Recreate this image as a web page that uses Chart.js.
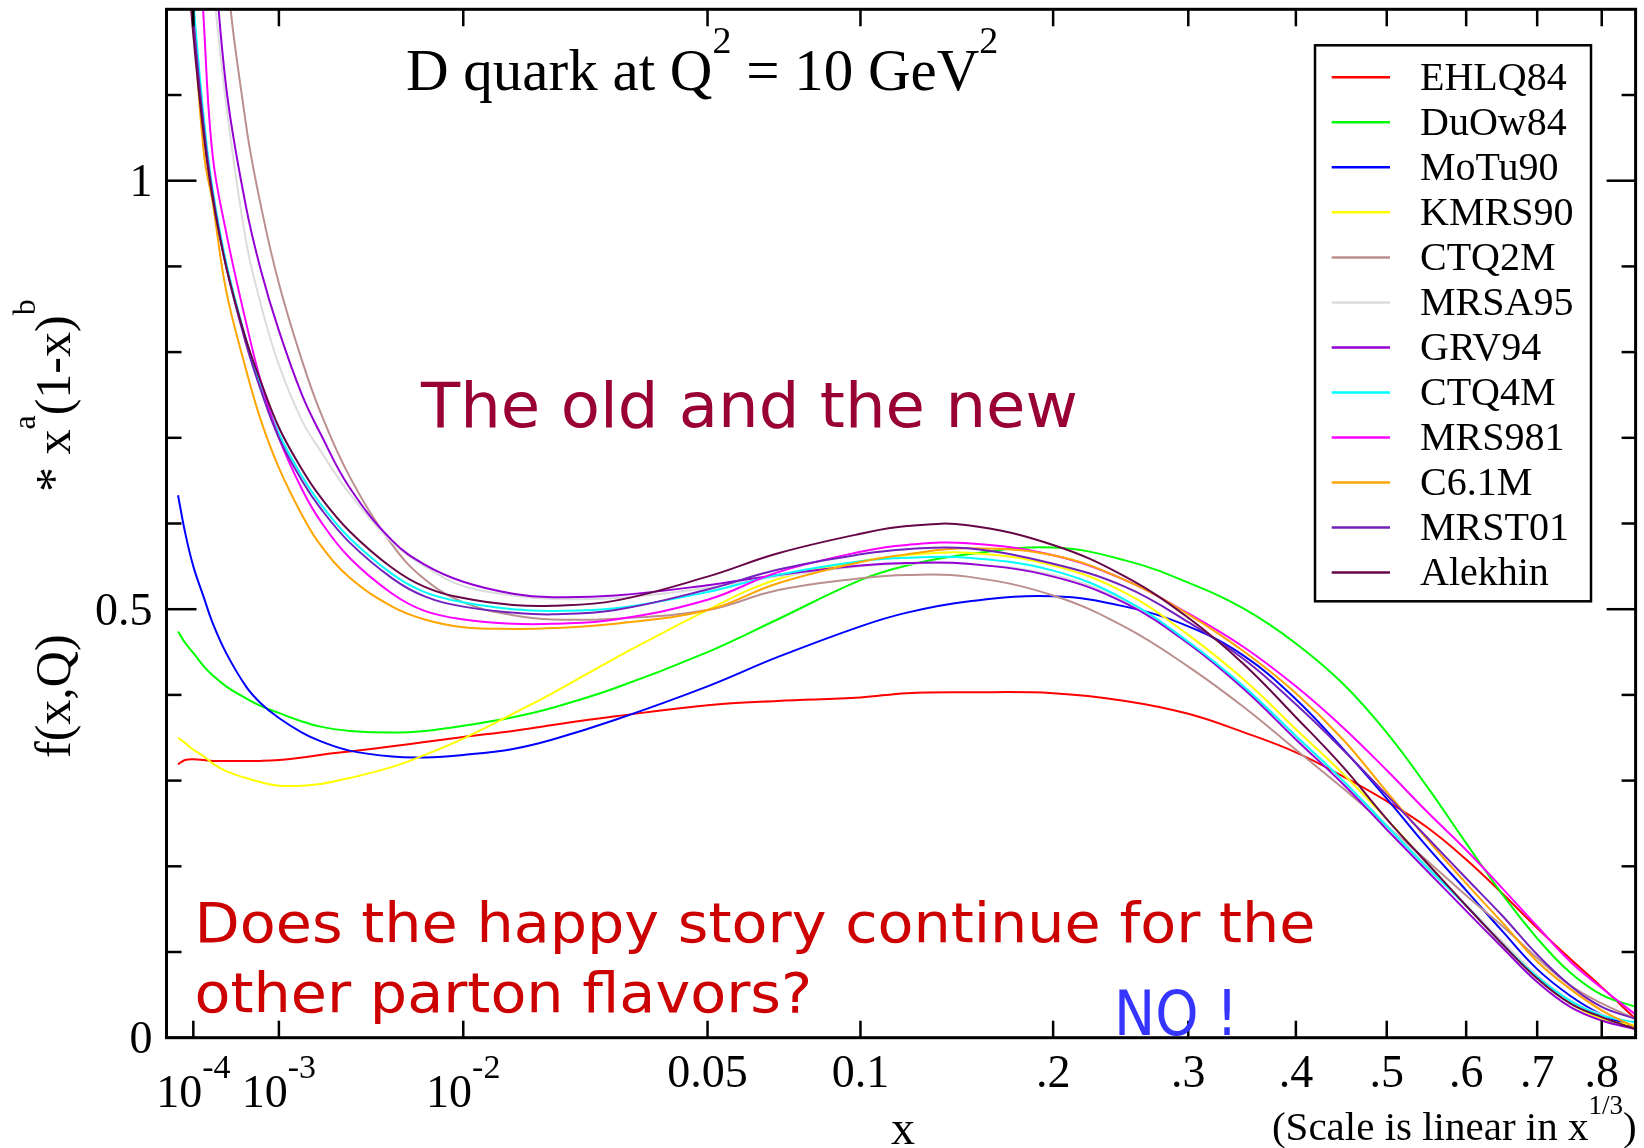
<!DOCTYPE html>
<html lang="en">
<head>
    <meta charset="UTF-8">
    <title>D quark at Q2 = 10 GeV2</title>
    <script src="https://cdn.jsdelivr.net/npm/chart.js@4.4.0"></script>
    <style>
        body { margin: 0; background: #fff; }
        canvas { display: block; }
    </style>
</head>
<body>
    <canvas id="pdfChart" width="1644" height="1148"></canvas>
    <script>
        // x values (the axis is linear in x^(1/3))
        const xValues = [5e-5, 7e-5, 1e-4, 1.5e-4, 2e-4, 3e-4, 5e-4, 7e-4, 1e-3, 1.5e-3, 2e-3, 3e-3, 5e-3, 7e-3,
                         0.01, 0.015, 0.02, 0.03, 0.05, 0.07, 0.1, 0.12, 0.15, 0.2, 0.25, 0.3, 0.35, 0.4, 0.45,
                         0.5, 0.55, 0.6, 0.65, 0.7, 0.75, 0.8, 0.856];

        // f(x,Q) * x^a (1-x)^b, one array per PDF set
        const ehlq84 = [0.319, 0.324, 0.325, 0.324, 0.323, 0.323, 0.323, 0.323, 0.324, 0.327, 0.330, 0.334, 0.340, 0.345,
                        0.351, 0.358, 0.365, 0.375, 0.388, 0.393, 0.397, 0.402, 0.403, 0.402, 0.393, 0.378, 0.356, 0.333, 0.305,
                        0.276, 0.245, 0.208, 0.168, 0.128, 0.092, 0.059, 0.022];
        const duow84 = [0.474, 0.461, 0.449, 0.433, 0.423, 0.410, 0.396, 0.387, 0.379, 0.369, 0.363, 0.358, 0.356, 0.358,
                        0.364, 0.374, 0.385, 0.408, 0.450, 0.488, 0.534, 0.551, 0.564, 0.572, 0.557, 0.531, 0.500, 0.460, 0.413,
                        0.356, 0.292, 0.227, 0.167, 0.116, 0.076, 0.050, 0.036];
        const motu90 = [0.633, 0.590, 0.550, 0.513, 0.484, 0.449, 0.410, 0.390, 0.373, 0.356, 0.346, 0.335, 0.328, 0.327,
                        0.330, 0.337, 0.348, 0.371, 0.410, 0.444, 0.480, 0.496, 0.509, 0.515, 0.503, 0.480, 0.445, 0.395, 0.337,
                        0.279, 0.222, 0.172, 0.124, 0.080, 0.049, 0.027, 0.012];
        const kmrs90 = [0.350, 0.344, 0.336, 0.328, 0.320, 0.311, 0.303, 0.298, 0.294, 0.294, 0.296, 0.303, 0.316, 0.330,
                        0.349, 0.378, 0.402, 0.443, 0.499, 0.535, 0.556, 0.563, 0.566, 0.551, 0.519, 0.470, 0.417, 0.360, 0.308,
                        0.255, 0.203, 0.154, 0.109, 0.069, 0.040, 0.022, 0.014];
        const ctq2m = [3.0, 2.6, 2.2, 1.85, 1.6, 1.26, 1.066, 0.97, 0.88, 0.79, 0.73, 0.655, 0.575, 0.535,
                       0.508, 0.493, 0.488, 0.489, 0.499, 0.522, 0.536, 0.540, 0.538, 0.516, 0.479, 0.433, 0.385, 0.336, 0.291,
                       0.247, 0.206, 0.166, 0.130, 0.093, 0.061, 0.040, 0.022];
        const mrsa95 = [2.1, 1.9, 1.62, 1.40, 1.24, 1.09, 0.93, 0.855, 0.785, 0.72, 0.685, 0.635, 0.578, 0.550,
                        0.527, 0.516, 0.512, 0.513, 0.525, 0.538, 0.550, 0.553, 0.553, 0.540, 0.509, 0.462, 0.408, 0.352, 0.300,
                        0.248, 0.200, 0.155, 0.112, 0.073, 0.044, 0.027, 0.017];
        const grv94 = [2.4, 2.1, 1.75, 1.50, 1.30, 1.11, 0.97, 0.895, 0.825, 0.75, 0.705, 0.642, 0.58, 0.552,
                       0.532, 0.518, 0.514, 0.516, 0.528, 0.540, 0.551, 0.554, 0.553, 0.538, 0.507, 0.460, 0.406, 0.348, 0.296,
                       0.243, 0.194, 0.148, 0.105, 0.065, 0.036, 0.020, 0.010];
        const ctq4m = [1.48, 1.35, 1.21, 1.07, 0.99, 0.905, 0.815, 0.76, 0.705, 0.655, 0.623, 0.583, 0.541, 0.520,
                       0.508, 0.500, 0.498, 0.501, 0.520, 0.540, 0.556, 0.560, 0.560, 0.545, 0.511, 0.462, 0.409, 0.352, 0.300,
                       0.247, 0.198, 0.154, 0.109, 0.071, 0.043, 0.026, 0.018];
        const mrs981 = [1.85, 1.65, 1.42, 1.18, 1.03, 0.94, 0.835, 0.765, 0.70, 0.64, 0.603, 0.56, 0.518, 0.498,
                        0.488, 0.483, 0.483, 0.488, 0.511, 0.543, 0.567, 0.575, 0.577, 0.563, 0.534, 0.495, 0.455, 0.410, 0.362,
                        0.312, 0.263, 0.219, 0.174, 0.130, 0.089, 0.058, 0.027];
        const c61m = [1.45, 1.32, 1.19, 1.03, 0.975, 0.872, 0.78, 0.72, 0.665, 0.61, 0.575, 0.537, 0.503, 0.488,
                      0.479, 0.477, 0.478, 0.483, 0.499, 0.530, 0.555, 0.564, 0.571, 0.563, 0.534, 0.494, 0.450, 0.402, 0.348,
                      0.287, 0.231, 0.180, 0.134, 0.089, 0.057, 0.032, 0.012];
        const mrst01 = [1.45, 1.32, 1.19, 1.06, 0.985, 0.90, 0.81, 0.755, 0.70, 0.65, 0.618, 0.578, 0.536, 0.515,
                        0.503, 0.496, 0.494, 0.499, 0.523, 0.546, 0.564, 0.570, 0.571, 0.553, 0.526, 0.485, 0.441, 0.389, 0.336,
                        0.283, 0.233, 0.186, 0.142, 0.097, 0.061, 0.036, 0.022];
        const alekhin = [1.42, 1.30, 1.17, 1.05, 0.98, 0.90, 0.815, 0.765, 0.712, 0.663, 0.631, 0.591, 0.548, 0.526,
                         0.513, 0.505, 0.504, 0.510, 0.538, 0.565, 0.588, 0.597, 0.598, 0.575, 0.538, 0.490, 0.435, 0.374, 0.316,
                         0.255, 0.203, 0.154, 0.109, 0.069, 0.040, 0.024, 0.010];

        const seriesNames = ['EHLQ84', 'DuOw84', 'MoTu90', 'KMRS90', 'CTQ2M', 'MRSA95',
                             'GRV94', 'CTQ4M', 'MRS981', 'C6.1M', 'MRST01', 'Alekhin'];
        const seriesValues = [ehlq84, duow84, motu90, kmrs90, ctq2m, mrsa95,
                              grv94, ctq4m, mrs981, c61m, mrst01, alekhin];
        const seriesColors = ['#ff0000', '#00ff00', '#0000ff', '#ffff00', '#bc8f8f', '#dcdcdc',
                              '#9400d3', '#00ffff', '#ff00ff', '#ffa500', '#7221bc', '#670748'];

        // axis ticks
        const xTickValues = [1e-4, 1e-3, 1e-2, 0.05, 0.1, 0.2, 0.3, 0.4, 0.5, 0.6, 0.7, 0.8];
        const xTickLabels = ['10^{-4}', '10^{-3}', '10^{-2}', '0.05', '0.1', '.2', '.3', '.4', '.5', '.6', '.7', '.8'];
        const yMajorTicks = [0, 0.5, 1];
        const yMajorLabels = ['0', '0.5', '1'];
        const yMinorTicks = [0.1, 0.2, 0.3, 0.4, 0.6, 0.7, 0.8, 0.9, 1.1];

        const SERIF = '"Liberation Serif", "Times New Roman", serif';
        const SANS = '"DejaVu Sans", sans-serif';

        // split 'a^{b}c' into [text, isSuperscript] pieces
        function richParts(str) {
            const parts = [];
            const re = /\^\{([^}]*)\}/g;
            let last = 0, m;
            while ((m = re.exec(str))) {
                if (m.index > last) parts.push([str.slice(last, m.index), false]);
                parts.push([m[1], true]);
                last = re.lastIndex;
            }
            if (last < str.length) parts.push([str.slice(last), false]);
            return parts;
        }

        function drawRich(ctx, str, x, y, o) {
            const parts = richParts(str);
            const base = o.size + 'px ' + SERIF;
            const sup = Math.round(o.size * o.supScale) + 'px ' + SERIF;
            let total = 0;
            const widths = parts.map(([t, s]) => {
                ctx.font = s ? sup : base;
                const w = ctx.measureText(t).width;
                total += w;
                return w;
            });
            let cx = o.align === 'center' ? x - total / 2 : o.align === 'right' ? x - total : x;
            ctx.textAlign = 'left';
            ctx.textBaseline = 'alphabetic';
            parts.forEach(([t, s], i) => {
                ctx.font = s ? sup : base;
                ctx.fillText(t, cx, s ? y - o.supRise : y);
                cx += widths[i];
            });
        }

        // sans text stretched horizontally to a given width
        function drawStretched(ctx, text, x, y, size, k, color) {
            ctx.save();
            ctx.font = size + 'px ' + SANS;
            ctx.fillStyle = color;
            ctx.textAlign = 'left';
            ctx.textBaseline = 'alphabetic';
            ctx.translate(x, y);
            ctx.scale(k, 1);
            ctx.fillText(text, 0, 0);
            ctx.restore();
        }

        function fitScale(ctx, text, size, width) {
            ctx.font = size + 'px ' + SANS;
            return width / ctx.measureText(text).width;
        }

        function seg(ctx, x1, y1, x2, y2) {
            ctx.beginPath();
            ctx.moveTo(x1, y1);
            ctx.lineTo(x2, y2);
            ctx.stroke();
        }

        const decorations = {
            id: 'decorations',
            afterDatasetsDraw(chart) {
                const ctx = chart.ctx;
                const xs = chart.scales.x, ys = chart.scales.y;
                const a = chart.chartArea;
                ctx.save();
                ctx.strokeStyle = '#000';
                ctx.fillStyle = '#000';
                ctx.lineCap = 'butt';

                // ticks, pointing inwards on all four sides
                ctx.lineWidth = 2.5;
                xTickValues.forEach(v => {
                    const px = xs.getPixelForValue(Math.cbrt(v));
                    seg(ctx, px, a.bottom, px, a.bottom - 17);
                    seg(ctx, px, a.top, px, a.top + 17);
                });
                yMajorTicks.forEach(v => {
                    const py = ys.getPixelForValue(v);
                    seg(ctx, a.left, py, a.left + 30, py);
                    seg(ctx, a.right, py, a.right - 29, py);
                });
                yMinorTicks.forEach(v => {
                    const py = ys.getPixelForValue(v);
                    seg(ctx, a.left, py, a.left + 15, py);
                    seg(ctx, a.right, py, a.right - 14, py);
                });

                // frame
                ctx.lineWidth = 3;
                ctx.strokeRect(a.left, a.top, a.right - a.left, a.bottom - a.top);

                // tick labels
                xTickValues.forEach((v, i) => {
                    const px = xs.getPixelForValue(Math.cbrt(v));
                    const lab = xTickLabels[i];
                    const y = a.bottom + (lab.includes('^') ? 69 : 49);
                    drawRich(ctx, lab, px, y, { size: 46, supScale: 0.74, supRise: 29, align: 'center' });
                });
                yMajorTicks.forEach((v, i) => {
                    const py = ys.getPixelForValue(v);
                    drawRich(ctx, yMajorLabels[i], a.left - 14, py + 15.5, { size: 46, supScale: 0.6, supRise: 0, align: 'right' });
                });

                // axis titles
                drawRich(ctx, 'x', (a.left + a.right) / 2 + 2, 1144, { size: 48, supScale: 0.6, supRise: 0, align: 'center' });
                drawRich(ctx, '(Scale is linear in x^{1/3})', a.right + 1, 1140, { size: 41, supScale: 0.66, supRise: 26, align: 'right' });

                ctx.save();
                ctx.translate(70, 0);
                ctx.rotate(-Math.PI / 2);
                drawRich(ctx, 'f(x,Q)', -758, 0, { size: 50, supScale: 0.64, supRise: 35, align: 'left' });
                drawRich(ctx, '* x^{a}(1-x)^{b}', -492, 0, { size: 50, supScale: 0.64, supRise: 35, align: 'left' });
                ctx.restore();

                // title inside the frame
                drawRich(ctx, 'D quark at Q^{2} = 10 GeV^{2}', 406, 90, { size: 59, supScale: 0.64, supRise: 37, align: 'left' });

                // annotations
                const kOld = fitScale(ctx, 'The old and the new', 63, 657);
                drawStretched(ctx, 'The old and the new', 421, 427, 63, kOld, '#990033');
                const kDoes = fitScale(ctx, 'Does the happy story continue for the', 55, 1121);
                drawStretched(ctx, 'Does the happy story continue for the', 194.5, 942, 55, kDoes, '#cc0000');
                drawStretched(ctx, 'other parton flavors?', 194.5, 1012, 55, kDoes, '#cc0000');
                const kNo = fitScale(ctx, 'NO !', 62, 124);
                drawStretched(ctx, 'NO !', 1114, 1035, 62, kNo, '#3535ff');

                // legend box
                const lx = 1315, ly = 45.3, lw = 276, lh = 556;
                ctx.fillStyle = '#fff';
                ctx.fillRect(lx, ly, lw, lh);
                ctx.strokeStyle = '#000';
                ctx.lineWidth = 2.5;
                ctx.strokeRect(lx, ly, lw, lh);
                chart.data.datasets.forEach((ds, i) => {
                    const y = 77.3 + 45.02 * i;
                    ctx.strokeStyle = ds.borderColor;
                    ctx.lineWidth = 2.5;
                    seg(ctx, 1331.7, y, 1390, y);
                    ctx.fillStyle = '#000';
                    drawRich(ctx, ds.label, 1420, y + 12.5, { size: 40, supScale: 0.6, supRise: 0, align: 'left' });
                });
                ctx.restore();
            }
        };

        const datasets = seriesNames.map((name, i) => ({
            label: name,
            data: xValues.map((x, j) => ({ x: Math.cbrt(x), y: seriesValues[i][j] })),
            borderColor: seriesColors[i],
            backgroundColor: seriesColors[i],
            borderWidth: 2,
            pointRadius: 0,
            fill: false,
            tension: 0.4,
            order: seriesNames.length - 1 - i
        }));

        const ctx = document.getElementById('pdfChart').getContext('2d');
        const pdfChart = new Chart(ctx, {
            type: 'line',
            data: { datasets: datasets },
            options: {
                responsive: false,
                animation: false,
                devicePixelRatio: 1,
                layout: { padding: { left: 166.5, right: 8.4, top: 9.3, bottom: 110.3 } },
                scales: {
                    x: { type: 'linear', min: 0.02962, max: 0.94953, display: false },
                    y: { type: 'linear', min: 0, max: 1.2, display: false }
                },
                plugins: {
                    legend: { display: false },
                    tooltip: { enabled: false }
                }
            },
            plugins: [decorations]
        });
    </script>
</body>
</html>
